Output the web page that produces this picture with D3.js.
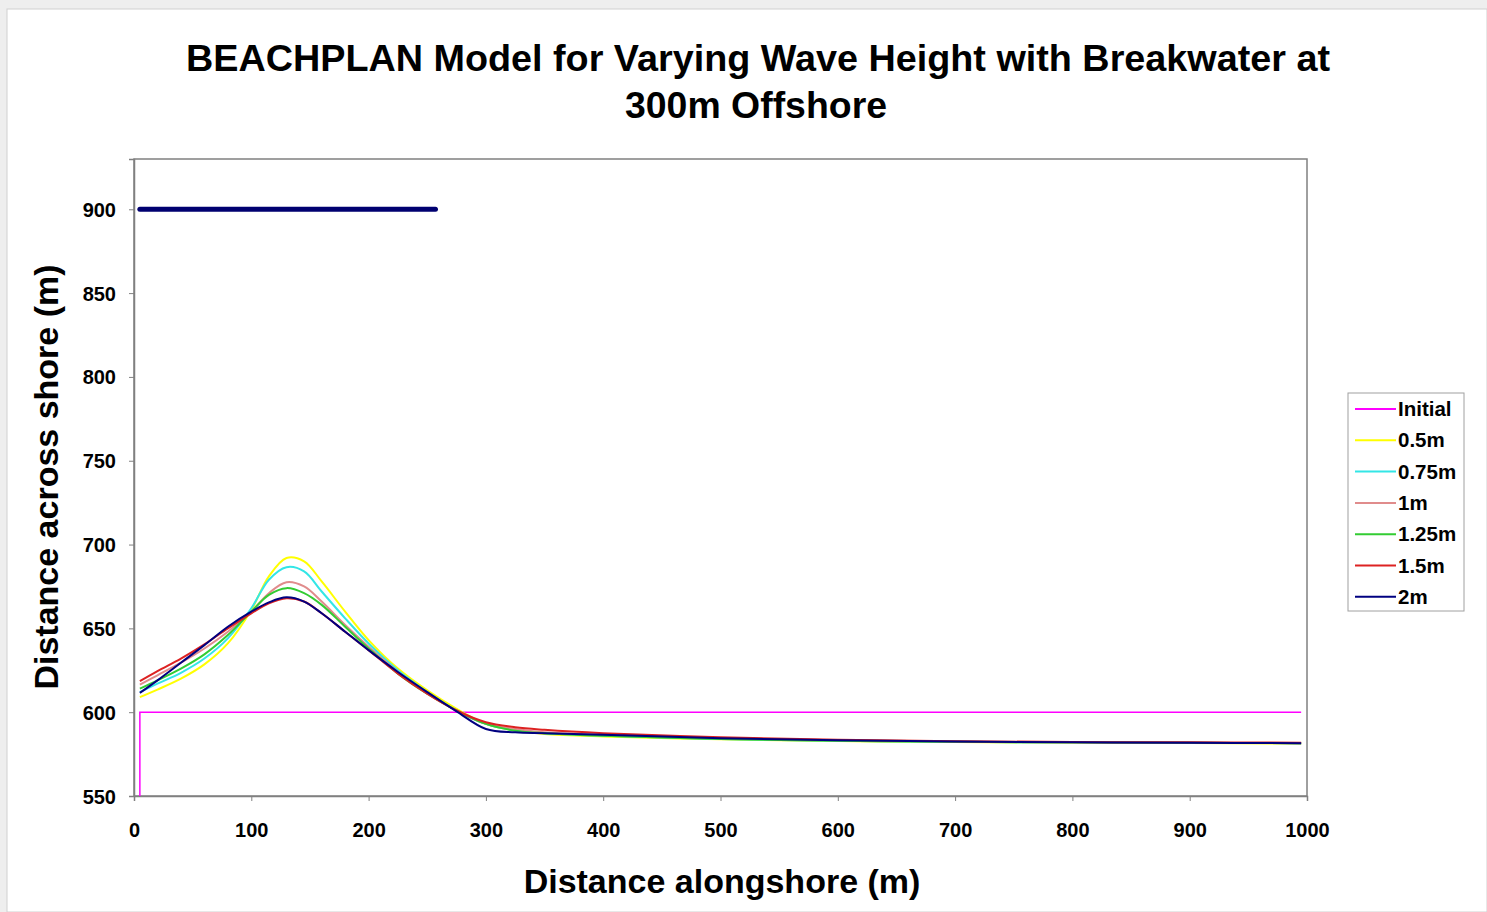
<!DOCTYPE html>
<html>
<head>
<meta charset="utf-8">
<script src="https://cdn.jsdelivr.net/npm/d3@7"></script>
<style>
  body { margin: 0; background: #ffffff; }
  svg { display: block; font-family: "Liberation Sans", Arial, sans-serif; }
</style>
</head>
<body>
<svg id="chart" width="1487" height="912"></svg>
<script>
// Data
const xSamples = [5, 20, 40, 60, 80, 100, 115, 130, 145, 160, 180, 200, 225, 250, 275, 300, 325, 350, 400, 500, 600, 700, 800, 900, 995];

const seriesNames = ["0.5m", "0.75m", "1m", "1.25m", "1.5m", "2m"];
const seriesColors = ["#ffff00", "#33e6e6", "#e08c8c", "#33cc33", "#dd2222", "#000080"];

const y05 = [609, 613.5, 620, 628.5, 641, 661, 681, 692, 690, 678, 660, 643, 626, 613, 602, 593, 589, 587, 585.5, 583.8, 582.8, 582.2, 581.8, 581.6, 581.3];
const y075 = [612, 617, 623.5, 632, 644, 662, 679, 686.5, 684, 672, 656, 641, 625, 612, 601, 593, 589, 587.5, 586, 584, 583, 582.3, 582, 581.8, 581.5];
const y1 = [616.5, 622, 629.5, 638, 648, 660, 671, 677.5, 675, 666, 652, 639, 624, 611, 601, 593, 590, 588, 586.5, 584.5, 583.3, 582.5, 582, 581.8, 581.5];
const y125 = [614, 619, 626, 634.5, 646, 660, 670, 674, 671, 664, 651, 638, 623, 611, 601, 593, 589, 587.5, 586, 584, 583, 582.3, 582, 581.8, 581.5];
const y15 = [618.5, 624.5, 632, 640.5, 650, 659, 665, 668, 666, 659, 648, 637, 623, 611, 601, 594, 591, 589.5, 587.5, 585, 583.5, 582.7, 582.2, 582, 581.8];
const y2 = [611.5, 619, 629.5, 640, 651, 660, 665.5, 668.5, 666, 659, 648, 637, 624, 612, 600.5, 590, 588, 587.5, 586.5, 584.5, 583.2, 582.5, 582, 581.8, 581.5];
const seriesValues = [y05, y075, y1, y125, y15, y2];

const initialX = [5, 5, 995];
const initialY = [550, 600, 600];

const breakwaterX = [5, 257];
const breakwaterY = [900, 900];

const xTicks = [0, 100, 200, 300, 400, 500, 600, 700, 800, 900, 1000];
const yTicks = [550, 600, 650, 700, 750, 800, 850, 900];

const legendNames = ["Initial"].concat(seriesNames);
const legendColors = ["#ff00ff"].concat(seriesColors);

// Layout
const svg = d3.select("#chart");
const plot = { left: 134, right: 1307, top: 159, bottom: 796 };

// outer frame (screenshot edge + chart area)
svg.append("rect").attr("x", 0).attr("y", 0).attr("width", 1487).attr("height", 912).attr("fill", "#eeeeee");
svg.append("rect").attr("x", 7).attr("y", 9).attr("width", 1480).attr("height", 903)
    .attr("fill", "#ffffff").attr("stroke", "#d0d0d0");

const x = d3.scaleLinear().domain([0, 1000]).range([plot.left, plot.right]);
const y = d3.scaleLinear().domain([550, 930]).range([plot.bottom, plot.top]);

// plot area box
svg.append("rect")
    .attr("x", plot.left).attr("y", plot.top)
    .attr("width", plot.right - plot.left).attr("height", plot.bottom - plot.top)
    .attr("fill", "#ffffff").attr("stroke", "#808080").attr("stroke-width", 1.5);

// axes
const xAxis = svg.append("g")
    .attr("transform", "translate(0," + plot.bottom + ")")
    .call(d3.axisBottom(x).tickValues(xTicks).tickFormat(d3.format("d")).tickSize(5).tickPadding(22));
const yAxis = svg.append("g")
    .attr("transform", "translate(" + plot.left + ",0)")
    .call(d3.axisLeft(y).tickValues(yTicks).tickFormat(d3.format("d")).tickSize(5).tickPadding(13));

[xAxis, yAxis].forEach(g => {
    g.select(".domain").attr("stroke", "#808080").attr("stroke-width", 1.5);
    g.selectAll(".tick line").attr("stroke", "#808080");
    g.selectAll(".tick text")
        .attr("fill", "#000").attr("font-size", 20).attr("font-weight", "bold")
        .attr("font-family", "Liberation Sans, Arial, sans-serif");
});
yAxis.selectAll(".tick text").attr("dy", "0.35em");

// lines
const line = d3.line().x(d => x(d[0])).y(d => y(d[1]));
const smooth = d3.line().x(d => x(d[0])).y(d => y(d[1])).curve(d3.curveCatmullRom.alpha(0.5));

svg.append("path")
    .datum(d3.zip(initialX, initialY))
    .attr("d", line)
    .attr("fill", "none").attr("stroke", legendColors[0]).attr("stroke-width", 1.5);

seriesValues.forEach((vals, i) => {
    svg.append("path")
        .datum(d3.zip(xSamples, vals))
        .attr("d", smooth)
        .attr("fill", "none")
        .attr("stroke", seriesColors[i])
        .attr("stroke-width", 2);
});

svg.append("path")
    .datum(d3.zip(breakwaterX, breakwaterY))
    .attr("d", line)
    .attr("fill", "none").attr("stroke", "#000070")
    .attr("stroke-width", 5).attr("stroke-linecap", "round");

// title
const title = svg.append("text")
    .attr("text-anchor", "middle")
    .attr("font-size", 36).attr("font-weight", "bold").attr("fill", "#000");
title.append("tspan").attr("x", 758).attr("y", 71)
    .attr("textLength", 1144).attr("lengthAdjust", "spacingAndGlyphs")
    .text("BEACHPLAN Model for Varying Wave Height with Breakwater at");
title.append("tspan").attr("x", 756).attr("y", 118)
    .attr("textLength", 262).attr("lengthAdjust", "spacingAndGlyphs")
    .text("300m Offshore");

// axis titles
svg.append("text")
    .attr("x", 722).attr("y", 893)
    .attr("text-anchor", "middle")
    .attr("font-size", 34).attr("font-weight", "bold")
    .text("Distance alongshore (m)");
svg.append("text")
    .attr("transform", "translate(58,477) rotate(-90)")
    .attr("text-anchor", "middle")
    .attr("font-size", 34).attr("font-weight", "bold")
    .text("Distance across shore (m)");

// legend
const legend = svg.append("g").attr("transform", "translate(1348,393)");
legend.append("rect")
    .attr("width", 116).attr("height", 218)
    .attr("fill", "#ffffff").attr("stroke", "#a0a0a0");
legendNames.forEach((name, i) => {
    const ly = 16 + i * 31.3;
    legend.append("line")
        .attr("x1", 7).attr("x2", 48).attr("y1", ly).attr("y2", ly)
        .attr("stroke", legendColors[i]).attr("stroke-width", 2);
    legend.append("text")
        .attr("x", 50).attr("y", ly).attr("dy", "0.35em")
        .attr("font-size", 20.5).attr("font-weight", "bold")
        .text(name);
});
</script>
</body>
</html>
